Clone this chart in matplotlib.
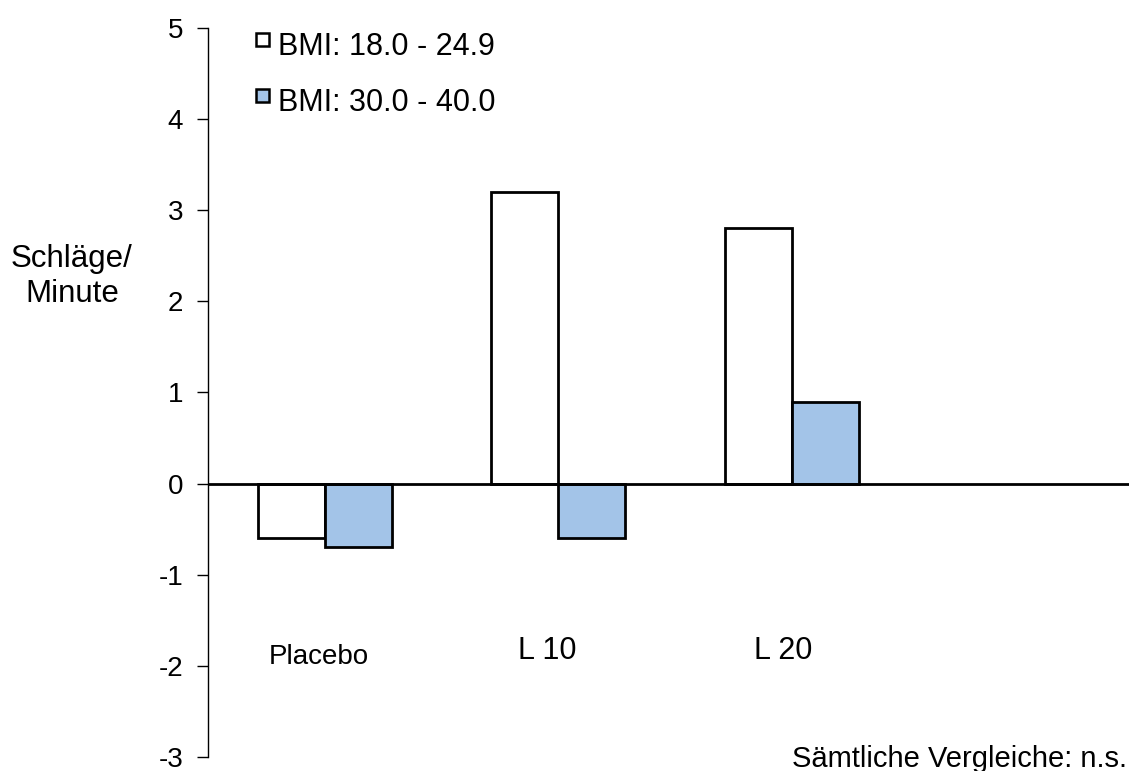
import matplotlib.pyplot as plt
from matplotlib.patches import Rectangle
import numpy as np

plt.rcParams['font.family'] = ['Liberation Sans', 'DejaVu Sans']

# Daten
groups = ['Placebo', 'L 10', 'L 20', '']
bmi_normal = [-0.6, 3.2, 2.8, 0]
bmi_obese = [-0.7, -0.6, 0.9, 0]
series_labels = ['BMI: 18.0 - 24.9', 'BMI: 30.0 - 40.0']
yticks = [-3, -2, -1, 0, 1, 2, 3, 4, 5]

blue = '#A3C4E8'
colors = ['white', blue]
x = np.arange(len(groups))
w = 0.287

W, H = 1129, 771
fig = plt.figure(figsize=(W / 100, H / 100), dpi=100)
ax = fig.add_axes([208 / W, 1 - 757 / H, 1 - 208 / W, 729 / H])

ax.bar(x[:3] - w / 2, bmi_normal[:3], w, color=colors[0], edgecolor='black', linewidth=2)
ax.bar(x[:3] + w / 2, bmi_obese[:3], w, color=colors[1], edgecolor='black', linewidth=2)
ax.axhline(0, color='black', linewidth=2, zorder=3)

ax.set_xlim(-0.5, 3.444)
ax.set_ylim(-3, 5)
ax.set_yticks(yticks)
ax.set_yticklabels([str(t) for t in yticks], fontsize=20)
ax.tick_params(axis='y', direction='out', length=8, width=1, pad=10)
ax.set_xticks([])
for s in ['top', 'right', 'bottom']:
    ax.spines[s].set_visible(False)
ax.spines['left'].set_linewidth(1)

# Kategorienbeschriftung (sitzen nicht genau unter den Balken)
ax.text(-0.024, -1.975, groups[0], fontsize=20, ha='center', va='baseline')
ax.text(0.951, -1.92, groups[1], fontsize=22, ha='center', va='baseline')
ax.text(1.961, -1.92, groups[2], fontsize=22, ha='center', va='baseline')

# Legende von Hand, Kästchen oben am Text
for i, (lab, col) in enumerate(zip(series_labels, colors)):
    top = 33 + i * 56
    fig.add_artist(Rectangle((256 / W, 1 - (top + 13) / H), 13 / W, 13 / H,
                             facecolor=col, edgecolor='black', linewidth=1.8,
                             transform=fig.transFigure))
    fig.text(278 / W, 1 - (55 + i * 56) / H, lab, fontsize=22, ha='left', va='baseline')

fig.text(72 / W, 1 - 267 / H, 'Schläge/', fontsize=22.5, ha='center', va='baseline')
fig.text(72 / W, 1 - 302 / H, 'Minute', fontsize=22.5, ha='center', va='baseline')
fig.text(1127 / W, 1 - 767 / H, 'Sämtliche Vergleiche: n.s.', fontsize=21, ha='right', va='baseline')

fig.savefig('out.png', dpi=100)
